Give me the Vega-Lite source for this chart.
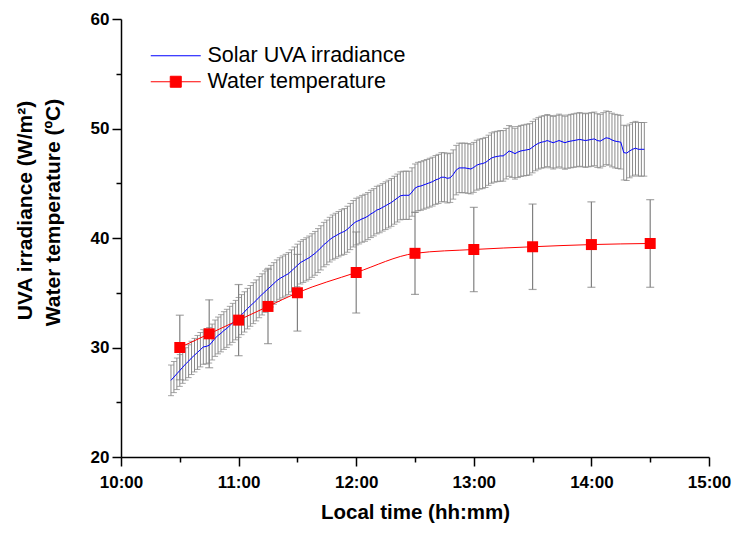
{
  "$schema": "https://vega.github.io/schema/vega-lite/v6.json",
  "width": 588,
  "height": 438,
  "autosize": "none",
  "padding": {"left": 121, "top": 19, "right": 28, "bottom": 77},
  "background": "white",
  "config": {"view": {"stroke": null}, "font": "Liberation Sans"},
  "datasets": {
    "uva": [
      {"t":625.5,"m":27.0,"e":1.40},{"t":627,"m":27.3,"e":1.42},{"t":628.5,"m":27.6,"e":1.44},{"t":630,"m":27.9,"e":1.45},
      {"t":631.5,"m":28.2,"e":1.47},{"t":633,"m":28.5,"e":1.48},{"t":634.5,"m":28.75,"e":1.50},{"t":636,"m":29.05,"e":1.52},
      {"t":637.5,"m":29.3,"e":1.53},{"t":639,"m":29.55,"e":1.55},{"t":640.5,"m":29.8,"e":1.57},{"t":642,"m":30.05,"e":1.58},
      {"t":643.5,"m":30.1,"e":1.60},{"t":645,"m":30.2,"e":1.62},{"t":646.5,"m":30.5,"e":1.64},{"t":648,"m":30.85,"e":1.66},
      {"t":649.5,"m":31.1,"e":1.68},{"t":651,"m":31.3,"e":1.70},{"t":652.5,"m":31.55,"e":1.72},{"t":654,"m":31.75,"e":1.74},
      {"t":655.5,"m":32.0,"e":1.76},{"t":657,"m":32.25,"e":1.78},{"t":658.5,"m":32.5,"e":1.80},{"t":660,"m":32.75,"e":1.82},
      {"t":661.5,"m":33.0,"e":1.83},{"t":663,"m":33.25,"e":1.84},{"t":664.5,"m":33.55,"e":1.85},{"t":666,"m":33.8,"e":1.86},
      {"t":667.5,"m":34.05,"e":1.87},{"t":669,"m":34.3,"e":1.87},{"t":670.5,"m":34.6,"e":1.88},{"t":672,"m":34.85,"e":1.88},
      {"t":673.5,"m":35.1,"e":1.89},{"t":675,"m":35.35,"e":1.89},{"t":676.5,"m":35.6,"e":1.90},{"t":678,"m":35.85,"e":1.90},
      {"t":679.5,"m":36.1,"e":1.90},{"t":681,"m":36.3,"e":1.90},{"t":682.5,"m":36.45,"e":1.91},{"t":684,"m":36.6,"e":1.91},
      {"t":685.5,"m":36.75,"e":1.92},{"t":687,"m":37.0,"e":1.92},{"t":688.5,"m":37.25,"e":1.93},{"t":690,"m":37.5,"e":1.94},
      {"t":691.5,"m":37.75,"e":1.95},{"t":693,"m":37.9,"e":1.96},{"t":694.5,"m":38.05,"e":1.97},{"t":696,"m":38.2,"e":1.98},
      {"t":697.5,"m":38.4,"e":1.99},{"t":699,"m":38.6,"e":2.00},{"t":700.5,"m":38.85,"e":2.01},{"t":702,"m":39.1,"e":2.02},
      {"t":703.5,"m":39.4,"e":2.03},{"t":705,"m":39.6,"e":2.04},{"t":706.5,"m":39.85,"e":2.04},{"t":708,"m":40.05,"e":2.05},
      {"t":709.5,"m":40.2,"e":2.06},{"t":711,"m":40.35,"e":2.07},{"t":712.5,"m":40.5,"e":2.08},{"t":714,"m":40.6,"e":2.09},
      {"t":715.5,"m":40.8,"e":2.10},{"t":717,"m":41.05,"e":2.11},{"t":718.5,"m":41.3,"e":2.12},{"t":720,"m":41.5,"e":2.13},
      {"t":721.5,"m":41.6,"e":2.14},{"t":723,"m":41.75,"e":2.14},{"t":724.5,"m":41.85,"e":2.15},{"t":726,"m":42.0,"e":2.15},
      {"t":727.5,"m":42.2,"e":2.16},{"t":729,"m":42.35,"e":2.16},{"t":730.5,"m":42.55,"e":2.17},{"t":732,"m":42.65,"e":2.17},
      {"t":733.5,"m":42.8,"e":2.17},{"t":735,"m":42.95,"e":2.18},{"t":736.5,"m":43.1,"e":2.18},{"t":738,"m":43.25,"e":2.18},
      {"t":739.5,"m":43.45,"e":2.19},{"t":741,"m":43.65,"e":2.19},{"t":742.5,"m":43.85,"e":2.19},{"t":744,"m":43.9,"e":2.20},
      {"t":745.5,"m":43.9,"e":2.20},{"t":747,"m":43.9,"e":2.20},{"t":748.5,"m":44.2,"e":2.21},{"t":750,"m":44.55,"e":2.21},
      {"t":751.5,"m":44.7,"e":2.21},{"t":753,"m":44.75,"e":2.22},{"t":754.5,"m":44.85,"e":2.22},{"t":756,"m":44.95,"e":2.22},
      {"t":757.5,"m":45.05,"e":2.23},{"t":759,"m":45.15,"e":2.23},{"t":760.5,"m":45.3,"e":2.23},{"t":762,"m":45.4,"e":2.24},
      {"t":763.5,"m":45.55,"e":2.24},{"t":765,"m":45.55,"e":2.24},{"t":766.5,"m":45.45,"e":2.25},{"t":768,"m":45.5,"e":2.25},
      {"t":769.5,"m":45.8,"e":2.25},{"t":771,"m":46.2,"e":2.26},{"t":772.5,"m":46.4,"e":2.26},{"t":774,"m":46.4,"e":2.26},
      {"t":775.5,"m":46.4,"e":2.27},{"t":777,"m":46.35,"e":2.27},{"t":778.5,"m":46.3,"e":2.27},{"t":780,"m":46.45,"e":2.28},
      {"t":781.5,"m":46.65,"e":2.28},{"t":783,"m":46.75,"e":2.28},{"t":784.5,"m":46.8,"e":2.29},{"t":786,"m":46.9,"e":2.29},
      {"t":787.5,"m":47.1,"e":2.29},{"t":789,"m":47.3,"e":2.30},{"t":790.5,"m":47.4,"e":2.30},{"t":792,"m":47.45,"e":2.30},
      {"t":793.5,"m":47.5,"e":2.31},{"t":795,"m":47.5,"e":2.31},{"t":796.5,"m":47.7,"e":2.31},{"t":798,"m":47.95,"e":2.32},
      {"t":799.5,"m":47.85,"e":2.32},{"t":801,"m":47.7,"e":2.32},{"t":802.5,"m":47.85,"e":2.33},{"t":804,"m":47.95,"e":2.33},
      {"t":805.5,"m":48.0,"e":2.33},{"t":807,"m":48.05,"e":2.34},{"t":808.5,"m":48.1,"e":2.34},{"t":810,"m":48.3,"e":2.35},
      {"t":811.5,"m":48.5,"e":2.36},{"t":813,"m":48.65,"e":2.36},{"t":814.5,"m":48.75,"e":2.37},{"t":816,"m":48.8,"e":2.38},
      {"t":817.5,"m":48.9,"e":2.38},{"t":819,"m":48.8,"e":2.39},{"t":820.5,"m":48.7,"e":2.40},{"t":822,"m":48.8,"e":2.40},
      {"t":823.5,"m":48.9,"e":2.41},{"t":825,"m":48.8,"e":2.42},{"t":826.5,"m":48.7,"e":2.42},{"t":828,"m":48.8,"e":2.43},
      {"t":829.5,"m":48.85,"e":2.44},{"t":831,"m":48.9,"e":2.44},{"t":832.5,"m":48.95,"e":2.45},{"t":834,"m":49.0,"e":2.45},
      {"t":835.5,"m":48.95,"e":2.45},{"t":837,"m":48.9,"e":2.45},{"t":838.5,"m":48.95,"e":2.45},{"t":840,"m":49.0,"e":2.45},
      {"t":841.5,"m":49.05,"e":2.45},{"t":843,"m":48.9,"e":2.45},{"t":844.5,"m":48.85,"e":2.45},{"t":846,"m":49.0,"e":2.45},
      {"t":847.5,"m":49.15,"e":2.45},{"t":849,"m":49.1,"e":2.45},{"t":850.5,"m":48.95,"e":2.45},{"t":852,"m":48.85,"e":2.45},
      {"t":853.5,"m":48.8,"e":2.45},{"t":855,"m":48.75,"e":2.45},{"t":856.5,"m":47.8,"e":2.50},{"t":858,"m":47.75,"e":2.50},
      {"t":859.5,"m":47.95,"e":2.45},{"t":861,"m":48.1,"e":2.45},{"t":862.5,"m":48.2,"e":2.45},{"t":864,"m":48.1,"e":2.45},
      {"t":865.5,"m":48.1,"e":2.45},{"t":867,"m":48.1,"e":2.45}
    ],
    "water": [
      {"t":630,"temp":30.0,"sd":2.95},
      {"t":645,"temp":31.25,"sd":3.1},
      {"t":660,"temp":32.5,"sd":3.25},
      {"t":675,"temp":33.75,"sd":3.4},
      {"t":690,"temp":35.0,"sd":3.5},
      {"t":720,"temp":36.85,"sd":3.7},
      {"t":750,"temp":38.6,"sd":3.75},
      {"t":780,"temp":38.95,"sd":3.85},
      {"t":810,"temp":39.2,"sd":3.9},
      {"t":840,"temp":39.4,"sd":3.9},
      {"t":870,"temp":39.5,"sd":4.0}
    ]
  },
  "resolve": {"scale": {"y": "independent"}, "axis": {"y": "independent"}},
  "layer": [
    {
      "layer": [
        {
          "data": {"name": "uva"},
          "mark": {"type": "errorbar", "color": "#8a8a8a", "thickness": 1, "ticks": {"size": 6, "thickness": 1, "color": "#808080"}},
          "encoding": {
            "x": {
              "field": "t", "type": "quantitative", "title": "Local time (hh:mm)",
              "scale": {"domain": [600, 900], "nice": false, "zero": false},
              "axis": {
                "title": "Local time (hh:mm)",
                "values": [600,615,630,645,660,675,690,705,720,735,750,765,780,795,810,825,840,855,870,885,900],
                "labelExpr": "datum.value % 60 === 0 ? (floor(datum.value / 60) + ':00') : ''",
                "tickSize": {"condition": {"test": "datum.value % 60 === 0", "value": 9}, "value": 5},
                "tickColor": "black", "tickWidth": 1.5,
                "domainColor": "black", "domainWidth": 1.5,
                "grid": false,
                "labelFont": "Liberation Sans", "labelFontSize": 17, "labelFontWeight": "bold", "labelColor": "black",
                "labelPadding": 8, "labelFlush": false, "labelOverlap": false,
                "titleFont": "Liberation Sans", "titleFontSize": 20.5, "titleFontWeight": "bold", "titleColor": "black",
                "titleY": 45
              }
            },
            "y": {
              "field": "m", "type": "quantitative", "title": "Water temperature (ºC)",
              "scale": {"domain": [20, 60], "nice": false, "zero": false},
              "axis": {
                "title": "Water temperature (ºC)",
                "values": [20,25,30,35,40,45,50,55,60],
                "labelExpr": "datum.value % 10 === 0 ? datum.label : ''",
                "tickSize": {"condition": {"test": "datum.value % 10 === 0", "value": 9}, "value": 5},
                "tickColor": "black", "tickWidth": 1.5,
                "domainColor": "black", "domainWidth": 1.5,
                "grid": false,
                "labelFont": "Liberation Sans", "labelFontSize": 17, "labelFontWeight": "bold", "labelColor": "black",
                "labelPadding": 3, "labelOverlap": false,
                "titleFont": "Liberation Sans", "titleFontSize": 21, "titleFontWeight": "bold", "titleColor": "black",
                "titleX": -58, "titleY": 193
              }
            },
            "yError": {"field": "e"}
          }
        },
        {
          "data": {"name": "water"},
          "mark": {"type": "errorbar", "color": "#808080", "thickness": 1.2, "ticks": {"size": 8, "thickness": 1.2, "color": "#808080"}},
          "encoding": {
            "x": {"field": "t", "type": "quantitative", "title": "Local time (hh:mm)"},
            "y": {"field": "temp", "type": "quantitative", "title": "Water temperature (ºC)"},
            "yError": {"field": "sd"}
          }
        },
        {
          "data": {"name": "uva"},
          "mark": {"type": "line", "strokeWidth": 1},
          "encoding": {
            "x": {"field": "t", "type": "quantitative", "title": "Local time (hh:mm)"},
            "y": {"field": "m", "type": "quantitative", "title": "Water temperature (ºC)"},
            "color": {
              "datum": "Solar UVA irradiance", "type": "nominal",
              "scale": {"domain": ["Solar UVA irradiance"], "range": ["#0000ff"]},
              "legend": {
                "title": null, "orient": "none", "legendX": 44, "legendY": 26, "padding": 0,
                "symbolType": "M-2.5,0H2.5", "symbolSize": 400, "symbolStrokeWidth": 1, "labelOffset": 21, "labelLimit": 400,
                "labelFont": "Liberation Sans", "labelFontSize": 21.5, "labelColor": "black", "labelFontWeight": "normal"
              }
            }
          }
        },
        {
          "data": {"name": "water"},
          "mark": {"type": "line", "strokeWidth": 1, "interpolate": "monotone", "color": "#ff0000"},
          "encoding": {
            "x": {"field": "t", "type": "quantitative", "title": "Local time (hh:mm)"},
            "y": {"field": "temp", "type": "quantitative", "title": "Water temperature (ºC)"}
          }
        }
      ]
    },
    {
      "data": {"name": "water"},
      "mark": {"type": "point", "shape": "square", "filled": true, "size": 121, "opacity": 1},
      "encoding": {
        "x": {"field": "t", "type": "quantitative", "title": "Local time (hh:mm)"},
        "y": {
          "field": "temp", "type": "quantitative", "title": "UVA irradiance (W/m²)",
          "scale": {"domain": [20, 60], "nice": false, "zero": false},
          "axis": {
            "orient": "left", "title": "UVA irradiance (W/m²)",
            "labels": false, "ticks": false, "domain": false, "grid": false,
            "titleFont": "Liberation Sans", "titleFontSize": 21, "titleFontWeight": "bold", "titleColor": "black",
            "titleX": -86, "titleY": 191
          }
        },
        "fill": {
          "datum": "Water temperature", "type": "nominal",
          "scale": {"domain": ["Water temperature"], "range": ["#ff0000"]},
          "legend": {
            "title": null, "orient": "none", "legendX": 44, "legendY": 52, "padding": 0,
            "symbolType": "M-2.5,0H2.5M-0.55,-0.55H0.55V0.55H-0.55Z", "symbolSize": 400,
            "symbolStrokeColor": "#ff0000", "symbolStrokeWidth": 1, "symbolFillColor": "#ff0000", "labelOffset": 21, "labelLimit": 400,
            "labelFont": "Liberation Sans", "labelFontSize": 21.5, "labelColor": "black", "labelFontWeight": "normal"
          }
        }
      }
    }
  ]
}
